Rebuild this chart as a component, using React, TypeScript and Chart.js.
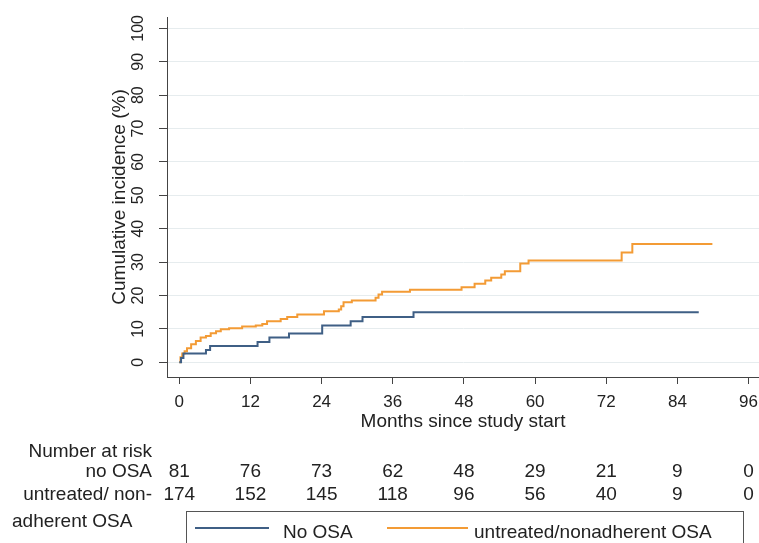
import React, { useEffect, useRef } from "react";
import { Chart, registerables } from "chart.js";

Chart.register(...registerables);

// ---- data ----
const monthTicks = [0, 12, 24, 36, 48, 60, 72, 84, 96];
const incidenceTicks = [0, 10, 20, 30, 40, 50, 60, 70, 80, 90, 100];

const noOsaMonths = [0, 0.3, 0.7, 4.5, 5.2, 13.2, 15.2, 18.5, 24.1, 28.9, 30.9, 39.5, 87.6];
const noOsaIncidence = [0, 1.3, 2.6, 3.7, 4.9, 6.1, 7.4, 8.6, 11.0, 12.3, 13.6, 15.0, 15.0];

const untreatedMonths = [
  0, 0.2, 0.5, 0.9, 1.3, 2.0, 2.8, 3.6, 4.5, 5.3, 6.2, 7.0, 8.4, 10.6, 12.9, 14.0, 14.8,
  17.1, 18.2, 19.9, 24.4, 26.9, 27.3, 27.7, 29.1, 33.1, 33.6, 34.2, 38.9, 47.6, 49.8,
  51.6, 52.6, 54.3, 54.9, 57.5, 58.9, 74.6, 76.4, 89.9,
];
const untreatedIncidence = [
  0, 1.5, 2.6, 3.3, 4.2, 5.4, 6.4, 7.4, 7.9, 8.7, 9.3, 9.9, 10.2, 10.7, 11.0, 11.5, 12.3,
  13.0, 13.6, 14.3, 15.3, 15.8, 16.8, 18.0, 18.5, 19.3, 20.3, 21.1, 21.7, 22.5, 23.5,
  24.5, 25.3, 26.3, 27.3, 29.6, 30.5, 32.9, 35.4, 35.4,
];

const riskNoOsa = [81, 76, 73, 62, 48, 29, 21, 9, 0];
const riskUntreated = [174, 152, 145, 118, 96, 56, 40, 9, 0];

const seriesNames = ["No OSA", "untreated/nonadherent OSA"];
const seriesColors = ["#3f5f85", "#f39b35"];

const FONT = "'Liberation Sans', Arial, Helvetica, sans-serif";
const TEXT = "#222222";
const AXIS = "#444444";

const W = 790;
const H = 560;

const overlayPlugin = {
  id: "overlay",
  afterDraw(chart: any) {
    const ctx = chart.ctx;
    const xs = chart.scales.x;
    ctx.save();
    ctx.fillStyle = TEXT;
    ctx.font = `19px ${FONT}`;
    ctx.textBaseline = "alphabetic";
    // risk table row labels
    ctx.textAlign = "right";
    ctx.fillText("Number at risk", 152, 457);
    ctx.fillText("no OSA", 152, 477);
    ctx.fillText("untreated/ non-", 152, 500);
    ctx.textAlign = "left";
    ctx.fillText("adherent OSA", 12, 527);
    // risk numbers
    ctx.textAlign = "center";
    monthTicks.forEach((m, i) => {
      const px = xs.getPixelForValue(m);
      ctx.fillText(String(riskNoOsa[i]), px, 477);
      ctx.fillText(String(riskUntreated[i]), px, 500);
    });
    // legend box
    ctx.strokeStyle = "#555555";
    ctx.lineWidth = 1;
    ctx.strokeRect(186.5, 511.5, 557, 60);
    ctx.lineWidth = 2;
    ctx.strokeStyle = seriesColors[0];
    ctx.beginPath();
    ctx.moveTo(195, 528);
    ctx.lineTo(269, 528);
    ctx.stroke();
    ctx.strokeStyle = seriesColors[1];
    ctx.beginPath();
    ctx.moveTo(387, 528);
    ctx.lineTo(468, 528);
    ctx.stroke();
    ctx.textAlign = "left";
    ctx.fillStyle = TEXT;
    ctx.fillText(seriesNames[0], 283, 538);
    ctx.fillText(seriesNames[1], 474, 538);
    ctx.restore();
  },
};

export default function App() {
  const ref = useRef<HTMLCanvasElement | null>(null);

  useEffect(() => {
    if (!ref.current) return;
    const chart = new Chart(ref.current, {
      type: "line",
      data: {
        datasets: [
          {
            label: seriesNames[0],
            data: noOsaMonths.map((m, i) => ({ x: m, y: noOsaIncidence[i] })),
            borderColor: seriesColors[0],
            borderWidth: 2,
            pointRadius: 0,
            stepped: "before",
            fill: false,
          },
          {
            label: seriesNames[1],
            data: untreatedMonths.map((m, i) => ({ x: m, y: untreatedIncidence[i] })),
            borderColor: seriesColors[1],
            borderWidth: 2,
            pointRadius: 0,
            stepped: "before",
            fill: false,
          },
        ],
      },
      options: {
        animation: false,
        responsive: false,
        devicePixelRatio: 1,
        layout: { padding: { left: 0, top: 17, right: W - 759, bottom: H - 437 } },
        plugins: { legend: { display: false }, tooltip: { enabled: false } },
        scales: {
          x: {
            type: "linear",
            min: -2.07,
            max: 97.76,
            afterBuildTicks: (s: any) => {
              s.ticks = monthTicks.map((v) => ({ value: v }));
            },
            afterFit: (s: any) => {
              s.height = 60;
            },
            ticks: {
              autoSkip: false,
              minRotation: 0,
              maxRotation: 0,
              padding: 8,
              color: TEXT,
              font: { family: FONT, size: 17 },
            },
            grid: {
              drawOnChartArea: false,
              drawTicks: true,
              tickLength: 7,
              tickColor: AXIS,
              color: AXIS,
            },
            border: { display: true, color: AXIS, width: 1 },
            title: {
              display: true,
              text: "Months since study start",
              color: TEXT,
              font: { family: FONT, size: 19 },
              padding: { top: 0, bottom: 4 },
            },
          },
          y: {
            type: "linear",
            min: -4.4,
            max: 103.4,
            afterBuildTicks: (s: any) => {
              s.ticks = incidenceTicks.map((v) => ({ value: v }));
            },
            afterFit: (s: any) => {
              s.width = 167;
            },
            ticks: {
              autoSkip: false,
              minRotation: 90,
              maxRotation: 90,
              crossAlign: "center",
              padding: 7,
              color: TEXT,
              font: { family: FONT, size: 16 },
            },
            grid: {
              color: "#e6ecee",
              lineWidth: 1,
              drawTicks: true,
              tickLength: 8,
              tickColor: AXIS,
            },
            border: { display: true, color: AXIS, width: 1 },
            title: {
              display: true,
              text: "Cumulative incidence (%)",
              color: TEXT,
              font: { family: FONT, size: 19 },
              padding: { top: 108, bottom: 0 },
            },
          },
        },
      },
      plugins: [overlayPlugin],
    } as any);
    return () => chart.destroy();
  }, []);

  return (
    <div
      style={{
        position: "absolute",
        left: 0,
        top: 0,
        width: 759,
        height: 543,
        overflow: "hidden",
        background: "#ffffff",
      }}
    >
      <canvas ref={ref} width={W} height={H} style={{ width: W, height: H, display: "block" }} />
    </div>
  );
}
